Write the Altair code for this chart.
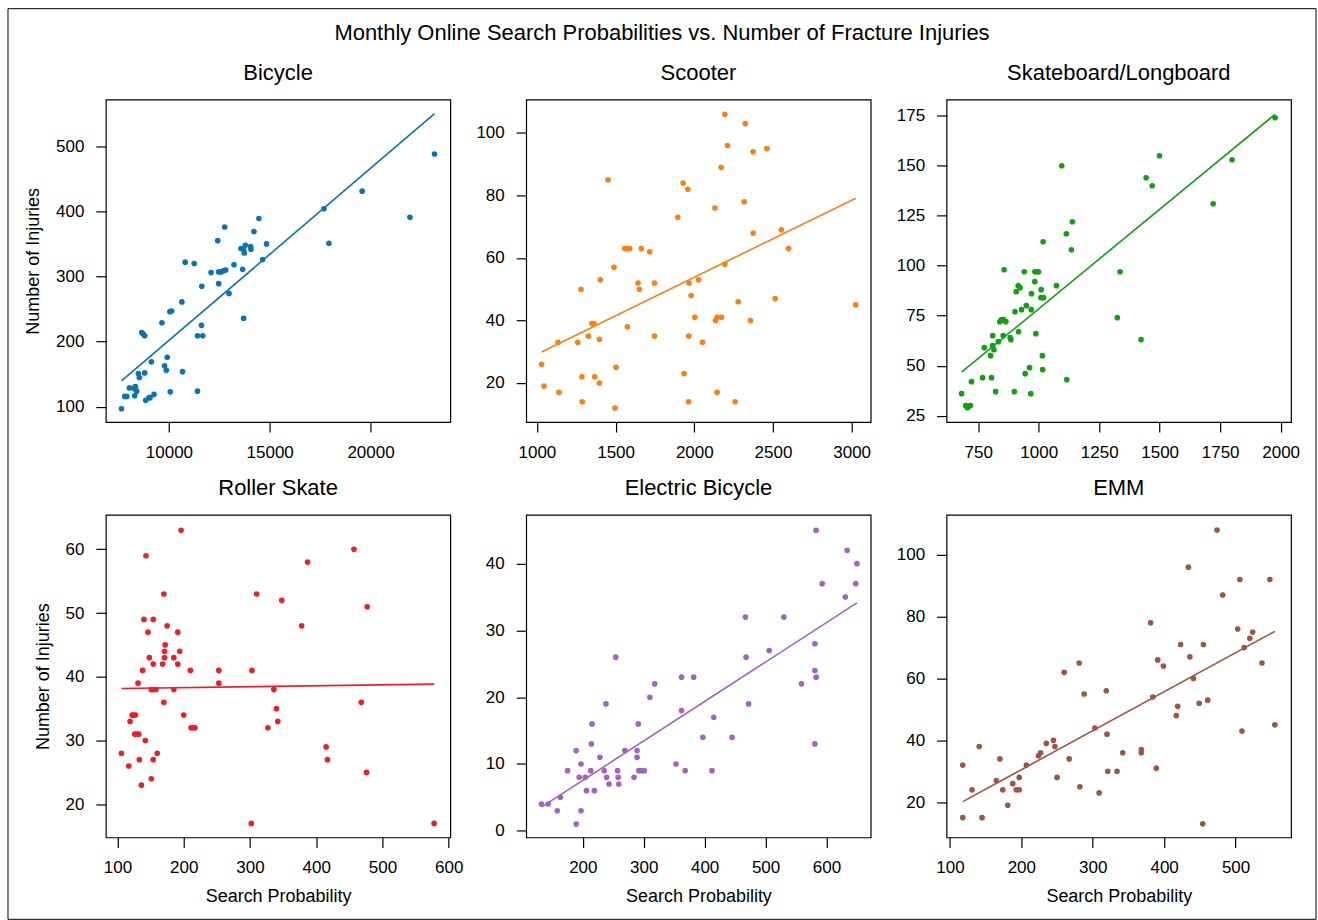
import altair as alt
import pandas as pd

FONT = "Liberation Sans"

# ---------------- data ----------------
bicycle_x = [7645, 7810, 7908, 8040, 8270, 8336, 8402, 8303, 8485, 8534, 8798, 8650, 8715, 8798, 8847,
             9012, 9061, 9259, 9127, 9654, 9786, 9868, 9918, 10066, 10049, 10132, 10642, 10675, 10807,
             11252, 11416, 11416, 11614, 11680, 11630, 12091, 12421, 12470, 12470, 12586, 12718, 12816,
             12767, 12981, 13228, 13574, 13706, 13789, 13739, 13656, 13706, 14052, 14069, 14217, 14464,
             14645, 14843, 17691, 17938, 19585, 21957, 23176]
bicycle_y = [97, 116, 116, 129, 128, 131, 124, 117, 151, 145, 152, 214, 212, 209, 110, 114, 114, 119, 169,
             229, 163, 156, 176, 123, 246, 247, 261, 154, 322, 320, 124, 209, 225, 209, 285, 306, 355, 289,
             307, 307, 309, 310, 376, 274, 318, 343, 341, 348, 336, 311, 236, 346, 342, 369, 389, 326, 350,
             404, 351, 431, 391, 488]

scooter_x = [1030, 1045, 1134, 1140, 1259, 1280, 1286, 1288, 1327, 1350, 1363, 1367, 1397, 1397, 1403,
             1452, 1490, 1496, 1503, 1558, 1573, 1590, 1575, 1643, 1651, 1664, 1717, 1747, 1747, 1895,
             1929, 1935, 1959, 1963, 1965, 1967, 1980, 2003, 2027, 2052, 2131, 2135, 2145, 2173, 2145,
             2171, 2194, 2194, 2211, 2260, 2279, 2317, 2324, 2357, 2374, 2374, 2461, 2514, 2553, 2599, 3026]
scooter_y = [26, 19, 33, 17, 33, 50, 22, 14, 35, 39, 39, 22, 34, 20, 53, 85, 57, 12, 25, 63, 63, 63, 38,
             52, 50, 63, 62, 52, 35, 73, 84, 23, 82, 14, 35, 52, 48, 41, 53, 33, 76, 40, 41, 41, 17, 89,
             106, 58, 96, 14, 46, 78, 103, 40, 94, 68, 95, 47, 69, 63, 45]

skate_x = [681, 698, 705, 717, 722, 768, 775, 801, 805, 809, 810, 815, 822, 833, 839, 846, 855, 864, 853,
           857, 882, 885, 899, 902, 907, 915, 923, 916, 929, 940, 944, 949, 962, 967, 969, 970, 984, 984,
           992, 999, 988, 1010, 1009, 1020, 1015, 1016, 1018, 1073, 1095, 1116, 1114, 1135, 1139, 1325,
           1336, 1423, 1444, 1469, 1499, 1721, 1799, 1977]
skate_y = [36, 30, 29, 30, 42, 44, 59, 55, 44, 60, 65, 58, 37, 62, 72, 73, 73, 72, 65, 98, 64, 63, 37, 77,
           87, 90, 89, 67, 78, 97, 46, 80, 49, 36, 78, 86, 92, 97, 97, 97, 66, 88, 84, 84, 55, 48, 112, 90,
           150, 43, 116, 108, 122, 74, 97, 63, 144, 140, 155, 131, 153, 174]

roller_x = [106, 117, 119, 122, 124, 127, 126, 129, 132, 131, 133, 136, 138, 140, 142, 143, 146, 148, 151,
            151, 154, 158, 154, 154, 154, 160, 168, 170, 170, 171, 171, 172, 175, 185, 185, 191, 191, 194,
            196, 200, 210, 211, 214, 217, 253, 253, 302, 303, 310, 327, 336, 340, 342, 348, 378, 387, 415,
            417, 457, 468, 476, 477, 578]
roller_y = [28, 26, 33, 34, 34, 34, 31, 31, 31, 39, 27, 23, 41, 49, 30, 59, 47, 43, 24, 38, 38, 38, 49, 42,
            27, 28, 42, 36, 53, 44, 43, 45, 48, 43, 38, 42, 47, 44, 63, 34, 41, 32, 32, 32, 41, 39, 17, 41,
            53, 32, 38, 35, 33, 52, 48, 58, 29, 27, 60, 36, 25, 51, 17]

ebike_x = [132, 143, 158, 163, 175, 189, 189, 194, 197, 197, 204, 206, 213, 214, 215, 219, 228, 235, 238,
           239, 243, 254, 257, 258, 259, 269, 284, 289, 289, 291, 292, 297, 301, 310, 318, 353, 362, 362,
           368, 382, 397, 412, 415, 445, 467, 468, 472, 506, 530, 559, 581, 581, 583, 581, 583, 593, 631,
           634, 648, 650]
ebike_y = [4, 4, 3, 5, 9, 12, 1, 8, 10, 3, 8, 6, 9, 13, 16, 6, 11, 9, 19, 8, 7, 26, 9, 8, 7, 12, 8, 12, 11,
           16, 9, 9, 9, 20, 22, 10, 23, 18, 9, 23, 14, 9, 17, 14, 32, 26, 19, 27, 32, 22, 28, 24, 23, 13,
           45, 37, 35, 42, 37, 40]

emm_x = [118, 118, 131, 141, 145, 165, 170, 174, 181, 188, 193, 197, 197, 207, 224, 227, 235, 245, 247,
         250, 260, 267, 281, 282, 288, 303, 309, 319, 320, 321, 334, 342, 368, 368, 381, 384, 389, 391, 399,
         417, 419, 423, 434, 436, 441, 449, 454, 455, 461, 474, 482, 503, 506, 509, 512, 520, 524, 537,
         548, 555]
emm_y = [32, 15, 24, 38, 15, 27, 34, 24, 19, 26, 24, 24, 28, 32, 35, 36, 39, 40, 38, 28, 62, 34, 65, 25,
         55, 44, 23, 56, 42, 30, 30, 36, 37, 36, 78, 54, 31, 66, 64, 48, 51, 71, 96, 67, 60, 52, 13, 71,
         53, 108, 87, 76, 92, 43, 70, 73, 75, 65, 92, 45]

titles = ["Bicycle", "Scooter", "Skateboard/Longboard", "Roller Skate", "Electric Bicycle", "EMM"]
colors = ["#0A72B5", "#FF7F0E", "#10A010", "#F01E24", "#A064BE", "#A05442"]

x_domains = [[6870, 23960], [932, 3121], [619, 2043], [82.4, 602.5], [107, 672.6], [95.3, 577.7]]
y_domains = [[76.6, 571.6], [7.5, 110.7], [21.8, 183.1], [14.8, 65.4], [-1.0, 47.3], [8.6, 112.9]]
x_ticks = [[10000, 15000, 20000], [1000, 1500, 2000, 2500, 3000], [750, 1000, 1250, 1500, 1750, 2000],
           [100, 200, 300, 400, 500, 600], [200, 300, 400, 500, 600], [100, 200, 300, 400, 500]]
y_ticks = [[100, 200, 300, 400, 500], [20, 40, 60, 80, 100], [25, 50, 75, 100, 125, 150, 175],
           [20, 30, 40, 50, 60], [0, 10, 20, 30, 40], [20, 40, 60, 80, 100]]

xs_all = [bicycle_x, scooter_x, skate_x, roller_x, ebike_x, emm_x]
ys_all = [bicycle_y, scooter_y, skate_y, roller_y, ebike_y, emm_y]

PW, PH = 345, 323


def panel(i):
    df = pd.DataFrame({"x": xs_all[i], "y": ys_all[i]})
    xtitle = "Search Probability" if i >= 3 else None
    ytitle = "Number of Injuries" if i % 3 == 0 else None
    xenc = alt.X("x:Q",
                 scale=alt.Scale(domain=x_domains[i], nice=False, zero=False),
                 axis=alt.Axis(values=x_ticks[i], format="d", title=xtitle))
    yenc = alt.Y("y:Q",
                 scale=alt.Scale(domain=y_domains[i], nice=False, zero=False),
                 axis=alt.Axis(values=y_ticks[i], format="d", title=ytitle))
    base = alt.Chart(df)
    pts = base.mark_circle(size=32, opacity=1, color=colors[i]).encode(x=xenc, y=yenc)
    line = base.transform_regression("x", "y").mark_line(color=colors[i], strokeWidth=1.6).encode(
        x=alt.X("x:Q"), y=alt.Y("y:Q"))
    layers = [pts, line]
    offset = -2
    if i == 0:
        # outer figure frame (decoration)
        frame = alt.Chart(pd.DataFrame({"k": [0]})).mark_rect(
            fillOpacity=0, stroke="black", strokeWidth=1).encode(
            x=alt.value(-98), x2=alt.value(1212), y=alt.value(-91), y2=alt.value(821))
        layers.append(frame)
        offset = -93.5
    return alt.layer(*layers).properties(
        width=PW, height=PH,
        title=alt.TitleParams(text=titles[i], font=FONT, fontSize=22, fontWeight="normal",
                              color="black", anchor="middle", frame="group",
                              baseline="alphabetic", offset=offset))


chart = alt.concat(
    *[panel(i) for i in range(6)],
    columns=3,
    spacing={"row": 93, "column": 76},
    bounds="flush",
    title=alt.TitleParams(text="Monthly Online Search Probabilities vs. Number of Fracture Injuries",
                          font=FONT, fontSize=22, fontWeight="normal", color="black",
                          anchor="middle", frame="bounds", baseline="alphabetic", offset=-54),
    padding={"left": 6, "top": 6, "right": 0, "bottom": 0},
    background="white",
).configure_view(
    stroke="black", strokeWidth=1.2
).configure_axis(
    domain=False, grid=False,
    labelFont=FONT, labelFontSize=17, labelColor="black", labelPadding=12,
    labelFlush=False, labelOverlap=False,
    tickColor="black", tickSize=10, tickWidth=1.2,
    titleFont=FONT, titleFontSize=18, titleFontWeight="normal", titleColor="black", titlePadding=12,
).configure_axisY(titlePadding=13)

chart.save("out.html", embed_options={"renderer": "svg", "actions": False})
